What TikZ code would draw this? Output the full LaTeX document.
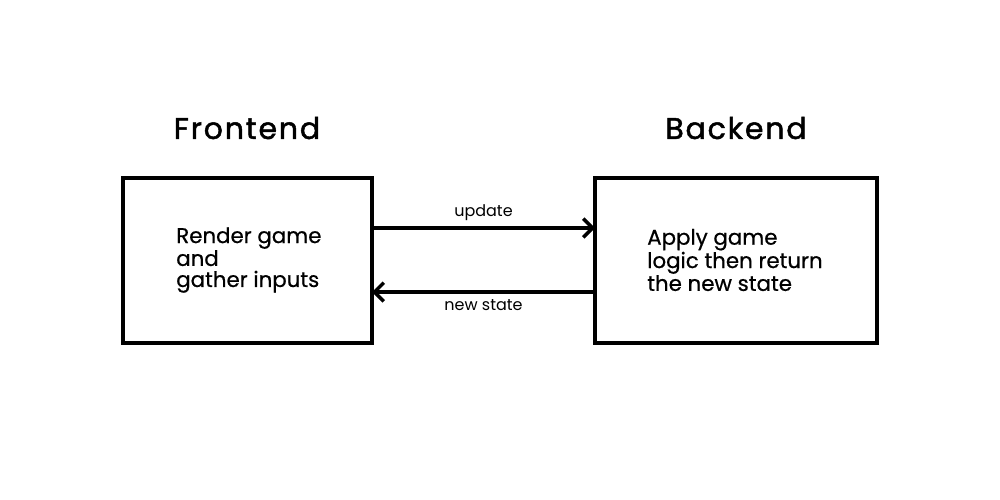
\documentclass[tikz,border=0pt]{standalone}
\usepackage{fontspec}
\setmainfont{Poppins}
\usetikzlibrary{arrows.meta}
\begin{document}
\begin{tikzpicture}[x=0.75pt,y=-0.75pt,
  box/.style={draw=black,line width=3pt,fill=white},
  body/.style={align=left,anchor=west,inner sep=0pt,font=\fontsize{16}{15.8}\selectfont\addfontfeatures{FakeBold=0.6}},
  head/.style={inner sep=0pt,font=\fontsize{22.5}{24}\selectfont\addfontfeatures{LetterSpace=6,FakeBold=1.6}},
  lab/.style={inner sep=0pt,font=\fontsize{12}{14}\selectfont},
  conn/.style={line width=3pt,-{Straight Barb[length=7pt,width=14pt,line width=2.6pt]}}]
\useasboundingbox (0,0) rectangle (1000,500);
\draw[box] (123,178) rectangle (372,343);
\draw[box] (595,178) rectangle (877,343);
\coordinate (fa) at (372,228);
\coordinate (ba) at (595,228);
\coordinate (fb) at (372,292);
\coordinate (bb) at (595,292);
\node[head] (fh) at (247,128) {Frontend};
\node[head] (bh) at (736,128) {Backend};
\node[body] (ft) at (176,260) {Render game\\and\\gather inputs};
\node[body] (bt) at (647,260) {Apply game\\logic then return\\the new state};
\draw[conn] (fa) -- (ba) node[lab,midway,above=4pt] (lu) {update};
\draw[conn] (bb) -- (fb) node[lab,midway,below=4.5pt] (ln) {new state};
\end{tikzpicture}
\end{document}
